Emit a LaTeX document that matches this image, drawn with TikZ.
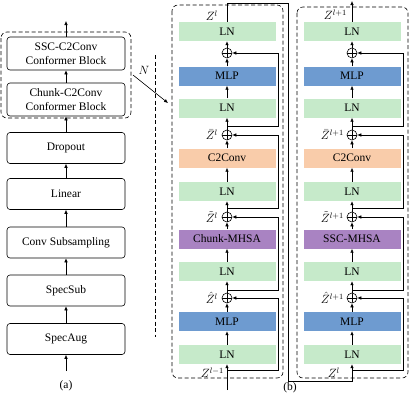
\documentclass[tikz,border=0pt]{standalone}
\usepackage{fontspec}
\setmainfont{Liberation Serif}
\usetikzlibrary{arrows.meta}
\definecolor{lngreen}{RGB}{198,234,202}
\definecolor{mlpblue}{RGB}{110,155,208}
\definecolor{convpeach}{RGB}{249,204,170}
\definecolor{mhsapurple}{RGB}{169,131,194}
\newcommand{\convblock}[7]{%
  % #1 prefix, #2 centre x, #3 residual x, #4 attention name, #5 sup, #6 input sup, #7 label east x
  \node[lnbox] (#1ln3) at (#2,31.5) {LN};
  \node[oplus] (#1p1) at (#2,53) {};
  \node[mlpbox] (#1mlp2) at (#2,76) {MLP};
  \node[lnbox] (#1ln2) at (#2,108) {LN};
  \coordinate (#1b1) at (#2,126);
  \node[oplus] (#1p2) at (#2,135) {};
  \node[convbox] (#1conv) at (#2,158) {C2Conv};
  \node[lnbox] (#1lnc) at (#2,191.5) {LN};
  \coordinate (#1b2) at (#2,208);
  \node[oplus] (#1p3) at (#2,217) {};
  \node[mhsabox] (#1mhsa) at (#2,239) {#4};
  \node[lnbox] (#1lna) at (#2,271.5) {LN};
  \coordinate (#1b3) at (#2,290);
  \node[oplus] (#1p4) at (#2,298) {};
  \node[mlpbox] (#1mlp1) at (#2,321.5) {MLP};
  \node[lnbox] (#1ln1) at (#2,354.5) {LN};
  \coordinate (#1b4) at (#2,370);
  \coordinate (#1rb1) at (#3,126);
  \coordinate (#1rp1) at (#3,53);
  \coordinate (#1rb2) at (#3,208);
  \coordinate (#1rp2) at (#3,135);
  \coordinate (#1rb3) at (#3,290);
  \coordinate (#1rp3) at (#3,217);
  \coordinate (#1rb4) at (#3,370);
  \coordinate (#1rp4) at (#3,298);
  \draw[arr] (#1ln1) -- (#1mlp1);
  \draw[arr] (#1mlp1) -- (#1p4);
  \draw[arr] (#1p4) -- (#1lna);
  \draw[arr] (#1lna) -- (#1mhsa);
  \draw[arr] (#1mhsa) -- (#1p3);
  \draw[arr] (#1p3) -- (#1lnc);
  \draw[arr] (#1lnc) -- (#1conv);
  \draw[arr] (#1conv) -- (#1p2);
  \draw[arr] (#1p2) -- (#1ln2);
  \draw[arr] (#1ln2) -- (#1mlp2);
  \draw[arr] (#1mlp2) -- (#1p1);
  \draw[arr] (#1p1) -- (#1ln3);
  \draw[arr] (#1b1) -- (#1rb1) -- (#1rp1) -- (#1p1);
  \draw[arr] (#1b2) -- (#1rb2) -- (#1rp2) -- (#1p2);
  \draw[arr] (#1b3) -- (#1rb3) -- (#1rp3) -- (#1p3);
  \draw[arr] (#1b4) -- (#1rb4) -- (#1rp4) -- (#1p4);
  \node[zlab] (#1lbar) at (#7,135) {$\bar{Z}^{#5}$};
  \node[zlab] (#1ltil) at (#7,217) {$\tilde{Z}^{#5}$};
  \node[zlab] (#1lhat) at (#7,298) {$\hat{Z}^{#5}$};
}
\begin{document}
\begin{tikzpicture}[x=1pt,y=-1pt,
  font=\fontsize{11.5}{14}\selectfont,
  abox/.style={draw, rounded corners=3pt, minimum width=118pt, minimum height=31pt, inner sep=0pt, align=center, line width=0.6pt},
  layer/.style={minimum width=97pt, minimum height=19pt, inner sep=0pt},
  lnbox/.style={layer, fill=lngreen},
  mlpbox/.style={layer, fill=mlpblue},
  convbox/.style={layer, fill=convpeach},
  mhsabox/.style={layer, fill=mhsapurple},
  arr/.style={-{Latex[length=4pt,width=3.5pt]}, line width=0.6pt},
  oplus/.style={circle, draw, line width=0.6pt, minimum size=10pt, inner sep=0pt,
    path picture={\draw[line width=0.6pt] (path picture bounding box.north) -- (path picture bounding box.south)
      (path picture bounding box.east) -- (path picture bounding box.west);}},
  dbox/.style={draw, dash pattern=on 4pt off 2.5pt, rounded corners=6pt, line width=0.6pt},
  zlab/.style={anchor=east, inner sep=0pt, font=\fontsize{12}{14}\selectfont}
]
\useasboundingbox (0,0) rectangle (410,400);

% ---------- (a) ----------
\node[abox, minimum height=33pt] (ssc) at (66,53.5) {SSC-C2Conv\\Conformer Block};
\node[abox, minimum height=33pt] (chunk) at (66,99.5) {Chunk-C2Conv\\Conformer Block};
\node[abox] (drop) at (66,148) {Dropout};
\node[abox] (lin) at (66,194) {Linear};
\node[abox] (conv) at (66,242.5) {Conv Subsampling};
\node[abox] (sub) at (66,290.5) {SpecSub};
\node[abox] (aug) at (66,339) {SpecAug};
\coordinate (ain) at (66,371);
\coordinate (aout) at (66,21);
\draw[arr] (ain) -- (aug);
\draw[arr] (aug) -- (sub);
\draw[arr] (sub) -- (conv);
\draw[arr] (conv) -- (lin);
\draw[arr] (lin) -- (drop);
\draw[arr] (drop) -- (chunk);
\draw[arr] (chunk) -- (ssc);
\draw[arr] (ssc) -- (aout);
\draw[dbox] (1,32) rectangle (131,118);
\node (la) at (66,386) {(a)};

% N arrow and separator
\node (nlab) at (144,70) {$N$};
\coordinate (n1) at (133,75);
\coordinate (n2) at (168,103);
\draw[arr] (n1) -- (n2);
\draw[dash pattern=on 4pt off 2.5pt, line width=0.6pt] (155,55) -- (155,337);

% ---------- (b) ----------
\draw[dbox] (172,5) rectangle (283,378);
\draw[dbox] (297,7) rectangle (408,378);
\convblock{A}{227}{278}{Chunk-MHSA}{l}{l-1}{218}
\convblock{B}{352}{403}{SSC-MHSA}{l+1}{l}{344}

% inputs / outputs
\coordinate (Ain) at (227,390);
\draw[arr] (Ain) -- (Aln1);
\coordinate (Atop) at (227,3);
\coordinate (c1) at (288,3);
\coordinate (c2) at (288,381);
\coordinate (c3) at (352,381);
\draw[arr] (Aln3) -- (Atop) -- (c1) -- (c2) -- (c3) -- (Bln1);
\coordinate (Bout) at (352,1);
\draw[arr] (Bln3) -- (Bout);

\node[zlab] (Aout) at (218,16) {$Z^{l}$};
\node[zlab] (Ainl) at (224,373) {$Z^{l-1}$};
\node[zlab] (Boutl) at (347,15) {$Z^{l+1}$};
\node[zlab] (Binl) at (340,373) {$Z^{l}$};

\node (lb) at (290,388) {(b)};
\end{tikzpicture}
\end{document}
